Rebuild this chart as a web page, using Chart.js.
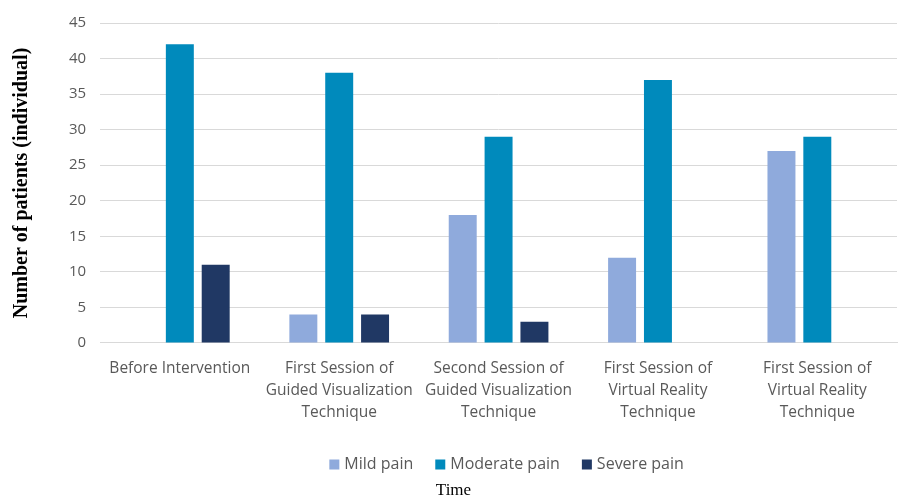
<!DOCTYPE html>
<html>
<head>
<meta charset="utf-8">
<script src="https://cdn.jsdelivr.net/npm/chart.js@4/dist/chart.umd.min.js"></script>
<style>
  html, body { margin: 0; padding: 0; background: #ffffff; }
  #wrap { width: 898px; height: 499px; position: relative; }
</style>
</head>
<body>
<div id="wrap"><canvas id="c"></canvas></div>
<script>
// Patient counts per pain level at each time point
const categories = [
  ["Before Intervention"],
  ["First Session of", "Guided Visualization", "Technique"],
  ["Second Session of", "Guided Visualization", "Technique"],
  ["First Session of", "Virtual Reality", "Technique"],
  ["First Session of", "Virtual Reality", "Technique"]
];
const mildPain = [0, 4, 18, 12, 27];
const moderatePain = [42, 38, 29, 37, 29];
const severePain = [11, 4, 3, 0, 0];
const yTicks = [0, 5, 10, 15, 20, 25, 30, 35, 40, 45];

const tickFont = { family: "'Open Sans', sans-serif", size: 15.5, lineHeight: 1.42 };

// Legend row drawn between the category labels and the "Time" caption
const seriesLegend = {
  id: 'seriesLegend',
  afterDraw(chart) {
    const ctx = chart.ctx;
    const area = chart.chartArea;
    const box = 10, gap = 5, spacing = 22;
    ctx.save();
    ctx.font = "16px 'Open Sans', sans-serif";
    ctx.textBaseline = 'middle';
    ctx.textAlign = 'left';
    const items = chart.data.datasets.map(ds => ({
      text: ds.label,
      color: ds.backgroundColor,
      width: ctx.measureText(ds.label).width
    }));
    const total = items.reduce((s, it) => s + box + gap + it.width, 0) + spacing * (items.length - 1);
    let x = (area.left + area.right) / 2 + 8 - total / 2;
    const y = chart.height - 34.5;
    items.forEach(it => {
      ctx.fillStyle = it.color;
      ctx.fillRect(x, y - box / 2, box, box);
      ctx.fillStyle = '#595959';
      ctx.fillText(it.text, x + box + gap, y);
      x += box + gap + it.width + spacing;
    });
    ctx.restore();
  }
};

new Chart(document.getElementById('c'), {
  type: 'bar',
  data: {
    labels: categories,
    datasets: [
      { label: 'Mild pain', data: mildPain, backgroundColor: '#8faadc' },
      { label: 'Moderate pain', data: moderatePain, backgroundColor: '#008abc' },
      { label: 'Severe pain', data: severePain, backgroundColor: '#203864' }
    ]
  },
  options: {
    responsive: true,
    maintainAspectRatio: false,
    animation: false,
    layout: { padding: { top: 4, right: 1, left: 10, bottom: 0 } },
    datasets: { bar: { categoryPercentage: 0.675, barPercentage: 0.78 } },
    scales: {
      x: {
        grid: { display: false },
        border: { display: true, color: '#d9d9d9' },
        ticks: { color: '#595959', font: tickFont, maxRotation: 0, autoSkip: false, padding: 7 }
      },
      y: {
        min: 0, max: 45,
        afterBuildTicks: (axis) => { axis.ticks = yTicks.map(v => ({ value: v })); },
        grid: { color: '#d9d9d9', drawTicks: false },
        border: { display: false },
        ticks: { color: '#595959', font: { family: "'Open Sans', sans-serif", size: 15 }, padding: 14 },
        title: {
          display: true,
          text: 'Number of patients (individual)',
          color: '#000000',
          font: { family: "'Liberation Serif', 'Times New Roman', serif", size: 20, weight: 'bold' },
          padding: { top: 0, bottom: 21 }
        }
      }
    },
    plugins: {
      legend: { display: false },
      title: {
        display: true,
        position: 'bottom',
        text: 'Time',
        color: '#000000',
        font: { family: "'Liberation Serif', 'Times New Roman', serif", size: 17, weight: 'normal', lineHeight: 1 },
        padding: { top: 51, bottom: 0 }
      },
      tooltip: { enabled: false }
    }
  },
  plugins: [seriesLegend]
});
</script>
</body>
</html>
